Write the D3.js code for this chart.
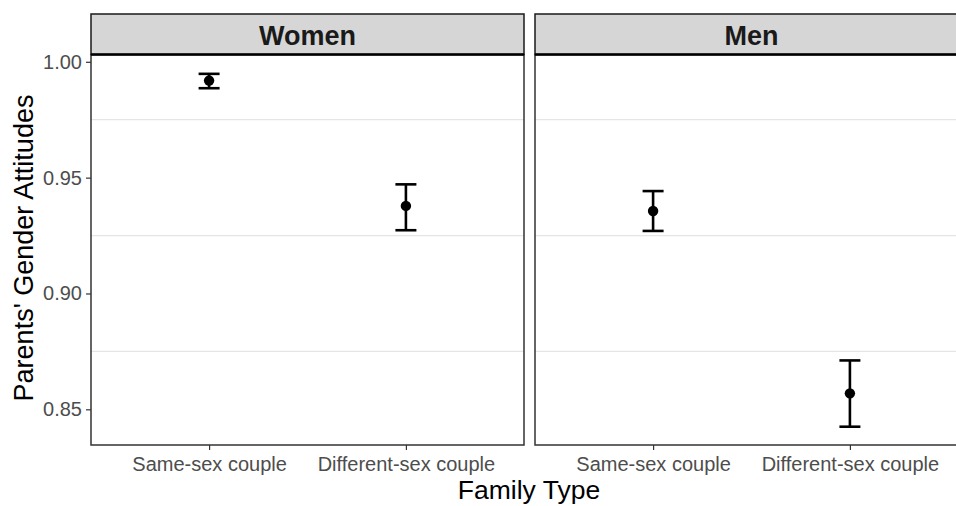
<!DOCTYPE html>
<html>
<head>
<meta charset="utf-8">
<script src="https://cdn.jsdelivr.net/npm/d3@7"></script>
<style>
  html, body { margin: 0; padding: 0; background: #fff; }
  svg { display: block; font-family: "Liberation Sans", Arial, sans-serif; }
</style>
</head>
<body>
<svg id="chart" width="956" height="506"></svg>
<script>
// Facets, categories and estimates with confidence intervals
const panels = ["Women", "Men"];
const familyTypes = ["Same-sex couple", "Different-sex couple"];
const estimate = { Women: [0.9919, 0.9378], Men: [0.9356, 0.8569] };
const lower    = { Women: [0.9886, 0.9273], Men: [0.9270, 0.8425] };
const upper    = { Women: [0.9948, 0.9471], Men: [0.9442, 0.8711] };
const yTicks = [0.85, 0.90, 0.95, 1.00];
const yMinorGrid = [0.875, 0.925, 0.975];

const svg = d3.select("#chart");
const W = 956, H = 506;
svg.append("rect").attr("width", W).attr("height", H).attr("fill", "#fff");

const panelW = 433;
const panelLeft = [91, 535];
const stripTop = 14, stripBottom = 54.5, plotBottom = 445;

const y = d3.scaleLinear().domain([0.8346, 1.00315]).range([plotBottom, stripBottom]);

// y axis on the left panel
const yAxis = d3.axisLeft(y).tickValues(yTicks).tickFormat(d3.format(".2f")).tickSize(5).tickPadding(4);
const gy = svg.append("g").attr("transform", `translate(${panelLeft[0]},0)`).call(yAxis);
gy.select(".domain").remove();
gy.selectAll(".tick line").attr("stroke", "#333").attr("stroke-width", 1.2);
gy.selectAll(".tick text").attr("fill", "#4d4d4d").style("font-size", "20px");

panels.forEach((p, i) => {
  const x0 = panelLeft[i];
  const x = d3.scalePoint().domain(familyTypes).range([x0, x0 + panelW]).padding(0.6);
  const g = svg.append("g");

  // minor gridlines
  g.selectAll("line.grid").data(yMinorGrid).join("line")
    .attr("x1", x0).attr("x2", x0 + panelW)
    .attr("y1", d => y(d)).attr("y2", d => y(d))
    .attr("stroke", "#e5e5e5").attr("stroke-width", 1.2);

  // panel border
  g.append("rect").attr("x", x0).attr("y", stripBottom).attr("width", panelW).attr("height", plotBottom - stripBottom)
    .attr("fill", "none").attr("stroke", "#333").attr("stroke-width", 1.5);

  // strip
  g.append("rect").attr("x", x0).attr("y", stripTop).attr("width", panelW).attr("height", stripBottom - stripTop)
    .attr("fill", "#d6d6d6").attr("stroke", "#1a1a1a").attr("stroke-width", 1.5);
  g.append("line").attr("x1", x0).attr("x2", x0 + panelW).attr("y1", stripBottom).attr("y2", stripBottom)
    .attr("stroke", "#000").attr("stroke-width", 2.5);
  g.append("text").attr("x", x0 + panelW / 2).attr("y", 44.5)
    .attr("text-anchor", "middle").attr("font-weight", "bold").style("font-size", "27px").attr("fill", "#1a1a1a")
    .text(p);

  // x axis
  const xAxis = d3.axisBottom(x).tickSize(5).tickPadding(7);
  const gx = g.append("g").attr("transform", `translate(0,${plotBottom})`).call(xAxis);
  gx.select(".domain").remove();
  gx.selectAll(".tick line").attr("stroke", "#333").attr("stroke-width", 1.2);
  gx.selectAll(".tick text").attr("fill", "#4d4d4d").style("font-size", "20px");

  // error bars and points
  const rows = familyTypes.map((f, j) => ({ f, est: estimate[p][j], lo: lower[p][j], hi: upper[p][j] }));
  const eb = g.selectAll("g.eb").data(rows).join("g");
  eb.append("line").attr("x1", d => x(d.f)).attr("x2", d => x(d.f))
    .attr("y1", d => y(d.lo)).attr("y2", d => y(d.hi)).attr("stroke", "#000").attr("stroke-width", 2.6);
  eb.append("line").attr("x1", d => x(d.f) - 10.5).attr("x2", d => x(d.f) + 10.5)
    .attr("y1", d => y(d.hi)).attr("y2", d => y(d.hi)).attr("stroke", "#000").attr("stroke-width", 2.6);
  eb.append("line").attr("x1", d => x(d.f) - 10.5).attr("x2", d => x(d.f) + 10.5)
    .attr("y1", d => y(d.lo)).attr("y2", d => y(d.lo)).attr("stroke", "#000").attr("stroke-width", 2.6);
  eb.append("circle").attr("cx", d => x(d.f)).attr("cy", d => y(d.est)).attr("r", 5.2).attr("fill", "#000");
});

// axis titles
svg.append("text").attr("x", 529).attr("y", 499).attr("text-anchor", "middle")
  .style("font-size", "26.5px").attr("fill", "#000").text("Family Type");
svg.append("text").attr("transform", `translate(33,248) rotate(-90)`)
  .attr("text-anchor", "middle").style("font-size", "27px").attr("fill", "#000").text("Parents' Gender Attitudes");
</script>
</body>
</html>
